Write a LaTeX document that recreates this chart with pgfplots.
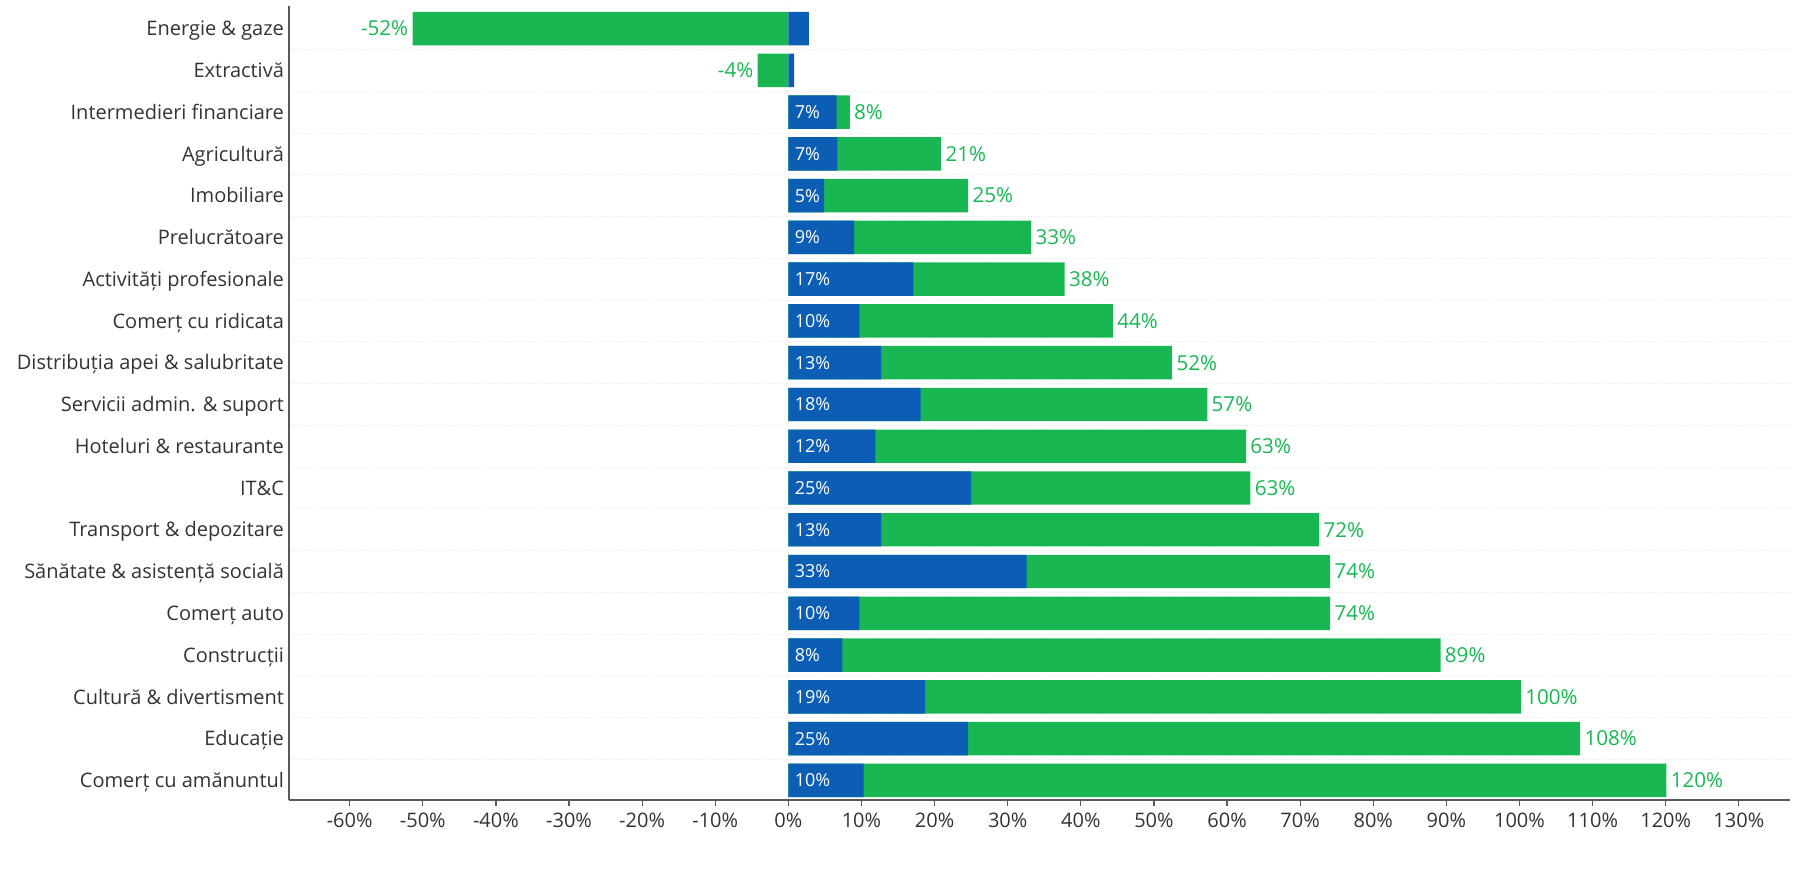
\documentclass[border=0pt]{standalone}
\usepackage{fontspec}
\setmainfont{Open Sans}
\usepackage{pgfplots}
\pgfplotsset{compat=1.18}
\definecolor{bgreen}{HTML}{18B752}
\definecolor{bblue}{HTML}{0B5EB4}
\definecolor{txt}{HTML}{333333}
\definecolor{axc}{HTML}{5A5A5A}
\begin{document}
\begin{tikzpicture}
\begin{axis}[
 scale only axis, width=750.5pt, height=397pt,
 xmin=-68.3, xmax=137, ymin=-0.54, ymax=18.47, y dir=reverse,
 axis x line*=bottom, axis y line*=left,
 axis line style={axc, line width=1.1pt},
 xtick={-60,-50,...,130},
 xticklabels={-60\%,-50\%,-40\%,-30\%,-20\%,-10\%,0\%,10\%,20\%,30\%,40\%,50\%,60\%,70\%,80\%,90\%,100\%,110\%,120\%,130\%},
 ytick={0,...,18},
 yticklabels={Energie \& gaze,Extractivă,Intermedieri financiare,Agricultură,Imobiliare,Prelucrătoare,Activități profesionale,Comerț cu ridicata,Distribuția apei \& salubritate,Servicii admin. \& suport,Hoteluri \& restaurante,IT\&C,Transport \& depozitare,Sănătate \& asistență socială,Comerț auto,Construcții,Cultură \& divertisment,Educație,Comerț cu amănuntul},
 ytick style={draw=none},
 xtick style={axc, line width=0.6pt}, tick align=outside, major tick length=3pt,
 minor tick length=0pt,
 ticklabel style={font=\fontsize{10}{12}\selectfont, text=txt},
 yticklabel style={anchor=base east, yshift=-3.6pt, xshift=4pt},
 minor ytick={0.5,1.5,...,17.5}, yminorgrids, minor grid style={densely dotted, gray!20},
 extra x ticks={0}, extra x tick labels={}, extra x tick style={grid=major, major grid style={densely dotted, gray!20}},
 bar width=16.7pt,
 clip=false,
]
\addplot[xbar, bar shift=0pt, fill=bgreen, draw=none, nodes near coords, point meta=explicit symbolic,
  nodes near coords style={anchor=west, text=bgreen, font=\fontsize{10.3}{12}\selectfont, inner sep=2pt}]
 coordinates {(8.4,2)[8\%] (20.9,3)[21\%] (24.6,4)[25\%] (33.2,5)[33\%] (37.8,6)[38\%] (44.4,7)[44\%] (52.5,8)[52\%] (57.3,9)[57\%] (62.6,10)[63\%] (63.2,11)[63\%] (72.6,12)[72\%] (74.1,13)[74\%] (74.1,14)[74\%] (89.2,15)[89\%] (100.2,16)[100\%] (108.3,17)[108\%] (120.1,18)[120\%]};
\addplot[xbar, bar shift=0pt, fill=bgreen, draw=none, nodes near coords, point meta=explicit symbolic,
  nodes near coords align={horizontal},
  nodes near coords style={anchor=east, text=bgreen, font=\fontsize{10.3}{12}\selectfont, inner sep=2pt}]
 coordinates {(-51.4,0)[-52\%] (-4.2,1)[-4\%]};
\addplot[xbar, bar shift=0pt, fill=bblue, draw=none]
 coordinates {(2.8,0) (0.8,1) (6.6,2) (6.7,3) (4.9,4) (9.0,5) (17.1,6) (9.7,7) (12.7,8) (18.1,9) (11.9,10) (25.0,11) (12.7,12) (32.6,13) (9.7,14) (7.4,15) (18.7,16) (24.6,17) (10.3,18)};
\addplot[only marks, mark=*, mark size=0pt, mark options={draw=none, fill=none}, nodes near coords, point meta=explicit symbolic,
  nodes near coords style={anchor=west, text=white, font=\fontsize{9}{11}\selectfont, inner sep=3pt}]
 coordinates {(0,2)[7\%] (0,3)[7\%] (0,4)[5\%] (0,5)[9\%] (0,6)[17\%] (0,7)[10\%] (0,8)[13\%] (0,9)[18\%] (0,10)[12\%] (0,11)[25\%] (0,12)[13\%] (0,13)[33\%] (0,14)[10\%] (0,15)[8\%] (0,16)[19\%] (0,17)[25\%] (0,18)[10\%]};
\end{axis}
\pgfresetboundingbox
\path (current axis.south west) ++(-144.5pt,-38.5pt) -- (current axis.north east) -- ++(3.5pt,3pt);
\end{tikzpicture}
\end{document}
